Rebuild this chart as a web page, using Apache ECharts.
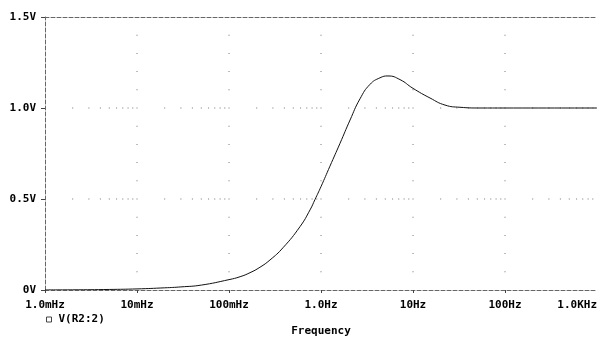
<!DOCTYPE html>
<html>
<head>
<meta charset="utf-8">
<script src="https://cdn.jsdelivr.net/npm/echarts@6/dist/echarts.min.js"></script>
<style>
  html, body { margin: 0; padding: 0; background: #fff; }
  #main { width: 597px; height: 339px; }
</style>
</head>
<body>
<div id="main"></div>
<script>
// 频率 (Hz) 与 V(R2:2) 读数
var freqs = [0.001, 0.002, 0.005, 0.01, 0.02, 0.03, 0.05, 0.1, 0.132, 0.169, 0.217, 0.279, 0.386, 0.591, 0.76, 0.86,
             1.0, 1.25, 1.61, 2.07, 2.65, 3.41, 4.38, 5.35, 7.22, 10, 15.3, 22.3, 32.4, 53.5, 100, 1000];
var volts = [0.0006, 0.001, 0.003, 0.006, 0.012, 0.017, 0.027, 0.057, 0.073, 0.095, 0.125, 0.165, 0.232, 0.348, 0.44, 0.497,
             0.568, 0.68, 0.806, 0.934, 1.05, 1.13, 1.166, 1.176, 1.156, 1.108, 1.055, 1.016, 1.004, 1.0, 1.0, 1.0];

var xTicks = [0.001, 0.01, 0.1, 1, 10, 100, 1000];
var xTickLabels = ['1.0mHz', '10mHz', '100mHz', '1.0Hz', '10Hz', '100Hz', '1.0KHz'];
var yTicks = [0, 0.5, 1.0, 1.5];
var yTickLabels = ['0V', '0.5V', '1.0V', '1.5V'];

// grid dots (PSpice style dotted grid)
var gridRows = [0.5, 1.0];
var gridCols = [0.01, 0.1, 1, 10, 100];
var minorMult = [2, 3, 4, 5, 6, 7, 8, 9];
var colSteps = [0.1, 0.2, 0.3, 0.4, 0.5, 0.6, 0.7, 0.8, 0.9, 1.0, 1.1, 1.2, 1.3, 1.4];

var dots = [];
gridRows.forEach(function (r) {
  [0.001, 0.01, 0.1, 1, 10, 100].forEach(function (d) {
    minorMult.forEach(function (m) { dots.push([d * m, r]); });
  });
});
gridCols.forEach(function (c) {
  colSteps.forEach(function (s) { dots.push([c, s]); });
});

var lineData = freqs.map(function (f, i) { return [f, volts[i]]; });

var font = 'DejaVu Sans Mono';
var axisDash = { color: '#666', width: 1, type: [4, 2] };

var chart = echarts.init(document.getElementById('main'));
chart.setOption({
  animation: false,
  backgroundColor: '#fff',
  grid: { left: 45, right: 0, top: 17, bottom: 49, containLabel: false, outerBoundsMode: 'none' },
  legend: {
    left: 46, top: 314, padding: 0,
    icon: 'rect', itemWidth: 5, itemHeight: 5,
    itemStyle: { color: '#fff', borderColor: '#444', borderWidth: 1 },
    textStyle: { fontFamily: font, fontSize: 11, fontWeight: 'bold', color: '#000', padding: [0, 0, 0, 2] },
    data: ['V(R2:2)']
  },
  xAxis: [{
    type: 'log', logBase: 10, min: 0.001, max: 1000,
    name: 'Frequency', nameLocation: 'middle', nameGap: 36,
    nameTextStyle: { fontFamily: font, fontSize: 11, fontWeight: 'bold', color: '#000' },
    axisLine: { lineStyle: axisDash },
    axisTick: { show: true, length: 3, lineStyle: { color: '#444' } },
    axisLabel: {
      margin: 10, fontFamily: font, fontSize: 11, fontWeight: 'bold', color: '#000',
      alignMaxLabel: 'right',
      formatter: function (v) {
        var i = xTicks.indexOf(+v.toPrecision(3));
        return i >= 0 ? xTickLabels[i] : '';
      }
    },
    splitLine: { show: false }
  }, {
    type: 'log', logBase: 10, min: 0.001, max: 1000, position: 'top',
    axisLine: { lineStyle: axisDash },
    axisTick: { show: false }, axisLabel: { show: false }, splitLine: { show: false }
  }],
  yAxis: {
    type: 'value', min: 0, max: 1.5, interval: 0.5,
    axisLine: { show: true, lineStyle: axisDash },
    axisTick: { show: true, length: 4, lineStyle: { color: '#444' } },
    axisLabel: {
      margin: 9, fontFamily: font, fontSize: 11, fontWeight: 'bold', color: '#000',
      formatter: function (v) {
        var i = yTicks.indexOf(v);
        return i >= 0 ? yTickLabels[i] : '';
      }
    },
    splitLine: { show: false }
  },
  series: [{
    name: 'grid', type: 'scatter', data: dots, silent: true,
    symbol: 'rect', symbolSize: 1, itemStyle: { color: '#555' }, z: 1
  }, {
    name: 'V(R2:2)', type: 'line', data: lineData, smooth: 0.5,
    showSymbol: false, lineStyle: { color: '#111', width: 1 }, itemStyle: { color: '#111' }, z: 3
  }]
});
</script>
</body>
</html>
